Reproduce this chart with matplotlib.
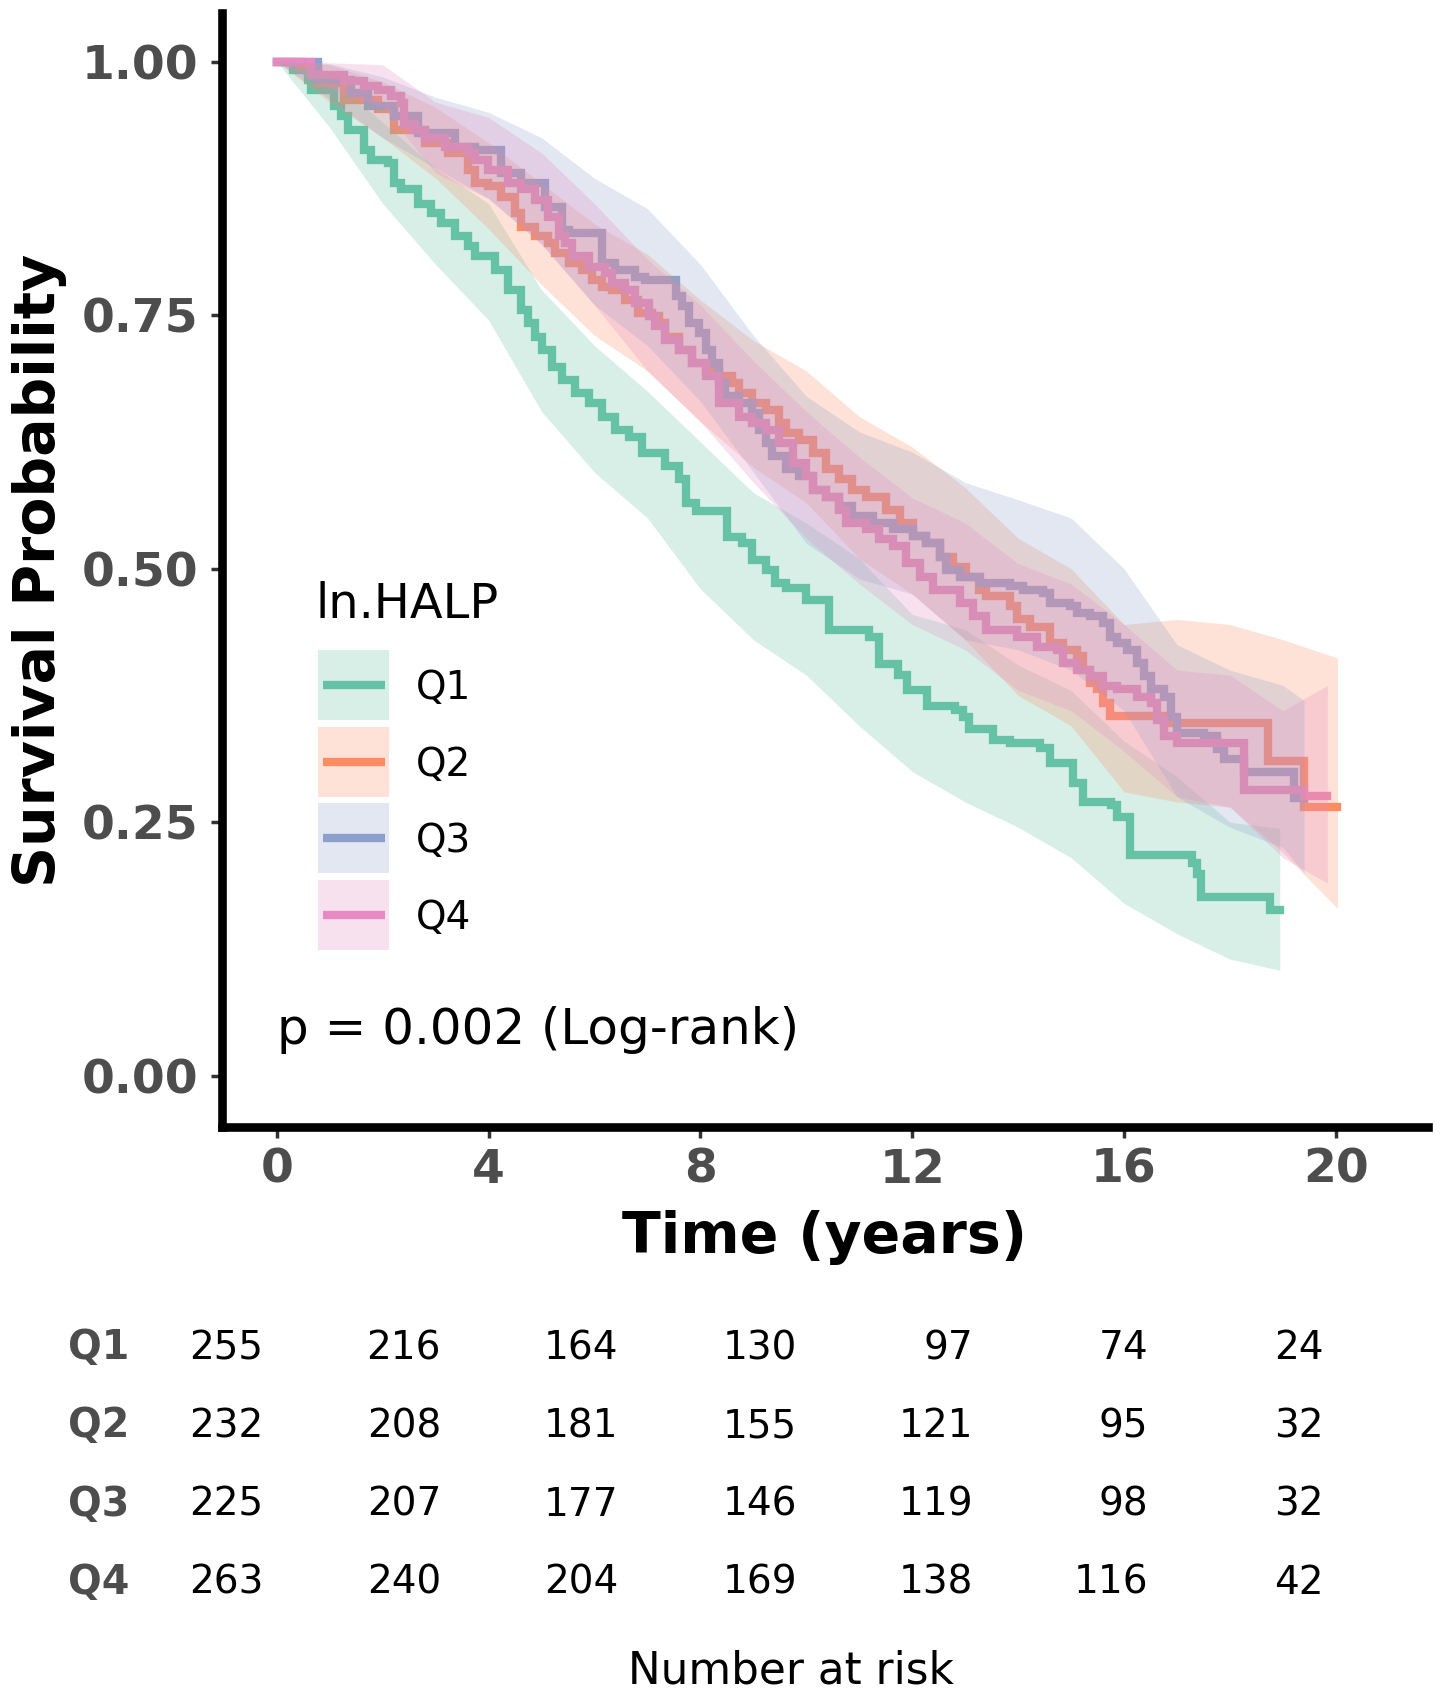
import matplotlib
matplotlib.use('Agg')
import matplotlib.pyplot as plt
from matplotlib.patches import Rectangle
from matplotlib.lines import Line2D

plt.rcParams['font.family'] = ['DejaVu Sans']

# ---------------- data ----------------
groups = ['Q1', 'Q2', 'Q3', 'Q4']
colors = ['#66C2A5', '#FC8D62', '#8DA0CB', '#E78AC3']

q1_time = [0, 0.30, 0.58, 0.64, 1.08, 1.21, 1.34, 1.65, 1.78, 2.10,
           2.22, 2.35, 2.66, 2.92, 3.11, 3.36, 3.61, 3.74, 4.12, 4.37,
           4.62, 4.75, 4.88, 5.00, 5.19, 5.38, 5.63, 5.89, 6.14, 6.39,
           6.65, 6.90, 7.34, 7.59, 7.72, 7.91, 8.51, 8.79, 8.98, 9.23,
           9.40, 9.61, 9.99, 10.43, 11.19, 11.37, 11.73, 11.91, 12.27, 12.80,
           12.96, 13.07, 13.52, 13.84, 14.42, 14.60, 15.04, 15.22, 15.76, 15.86,
           16.12, 17.28, 17.37, 17.46, 18.76, 18.94]
q1_surv = [1.000, 0.992, 0.982, 0.972, 0.956, 0.946, 0.933, 0.913, 0.903, 0.900,
           0.880, 0.874, 0.860, 0.851, 0.841, 0.828, 0.818, 0.808, 0.795, 0.775,
           0.755, 0.742, 0.729, 0.716, 0.699, 0.686, 0.673, 0.663, 0.650, 0.637,
           0.630, 0.614, 0.601, 0.588, 0.565, 0.557, 0.531, 0.525, 0.509, 0.499,
           0.486, 0.481, 0.469, 0.440, 0.433, 0.406, 0.395, 0.380, 0.365, 0.361,
           0.354, 0.342, 0.331, 0.328, 0.323, 0.308, 0.289, 0.270, 0.267, 0.255,
           0.218, 0.210, 0.199, 0.176, 0.163, 0.163]

q2_time = [0, 0.45, 0.77, 1.27, 1.91, 2.22, 2.79, 3.23, 3.61, 3.74,
           3.99, 4.24, 4.50, 4.62, 4.88, 5.13, 5.26, 5.51, 5.76, 5.95,
           6.14, 6.33, 6.58, 6.83, 7.08, 7.21, 7.34, 7.59, 7.84, 8.10,
           8.35, 8.60, 8.73, 8.98, 9.23, 9.49, 9.61, 9.86, 10.12, 10.37,
           10.62, 10.87, 11.13, 11.51, 11.76, 12.01, 12.26, 12.52, 12.77, 13.02,
           13.27, 13.40, 13.84, 13.97, 14.22, 14.60, 14.85, 15.11, 15.23, 15.36,
           15.49, 15.61, 15.74, 16.75, 18.71, 19.40, 20.03]
q2_surv = [1.000, 0.997, 0.979, 0.962, 0.953, 0.933, 0.920, 0.910, 0.893, 0.880,
           0.877, 0.867, 0.851, 0.837, 0.828, 0.821, 0.811, 0.801, 0.795, 0.785,
           0.778, 0.775, 0.765, 0.752, 0.749, 0.742, 0.729, 0.716, 0.703, 0.696,
           0.690, 0.683, 0.673, 0.663, 0.657, 0.644, 0.634, 0.627, 0.614, 0.598,
           0.588, 0.578, 0.571, 0.558, 0.545, 0.532, 0.525, 0.512, 0.502, 0.492,
           0.479, 0.473, 0.463, 0.450, 0.443, 0.427, 0.420, 0.414, 0.400, 0.387,
           0.381, 0.368, 0.355, 0.348, 0.310, 0.265, 0.265]

q3_time = [0, 0.77, 1.40, 1.72, 2.22, 2.66, 3.36, 3.74, 4.24, 4.62,
           5.07, 5.38, 5.51, 6.14, 6.39, 6.77, 6.96, 7.53, 7.65, 7.78,
           7.97, 8.10, 8.22, 8.35, 8.47, 8.73, 8.98, 9.11, 9.23, 9.36,
           9.61, 9.86, 10.12, 10.37, 10.62, 10.87, 11.25, 11.63, 12.01, 12.26,
           12.52, 12.64, 12.90, 13.28, 13.84, 14.10, 14.47, 14.60, 14.98, 15.11,
           15.36, 15.61, 15.74, 15.86, 16.05, 16.24, 16.37, 16.50, 16.75, 16.88,
           17.00, 17.51, 17.76, 17.89, 18.27, 19.21, 19.40]
q3_surv = [1.000, 0.982, 0.969, 0.956, 0.946, 0.930, 0.916, 0.913, 0.890, 0.880,
           0.857, 0.834, 0.831, 0.801, 0.795, 0.788, 0.785, 0.769, 0.759, 0.742,
           0.732, 0.716, 0.703, 0.683, 0.670, 0.663, 0.654, 0.637, 0.624, 0.611,
           0.598, 0.591, 0.578, 0.571, 0.562, 0.552, 0.545, 0.539, 0.532, 0.525,
           0.512, 0.499, 0.492, 0.486, 0.483, 0.479, 0.476, 0.466, 0.463, 0.456,
           0.453, 0.446, 0.433, 0.427, 0.420, 0.407, 0.394, 0.381, 0.374, 0.354,
           0.338, 0.335, 0.322, 0.312, 0.300, 0.274, 0.274]

q4_time = [0, 0.64, 1.27, 1.65, 1.91, 2.16, 2.35, 2.41, 2.60, 2.79,
           3.17, 3.61, 3.74, 3.99, 4.37, 4.62, 4.88, 5.13, 5.32, 5.44,
           5.57, 5.89, 6.20, 6.33, 6.58, 6.77, 7.03, 7.15, 7.34, 7.59,
           7.84, 8.10, 8.35, 8.73, 8.98, 9.23, 9.49, 9.74, 9.99, 10.12,
           10.37, 10.62, 10.75, 11.13, 11.38, 11.63, 11.89, 12.14, 12.39, 12.90,
           13.15, 13.40, 13.97, 14.35, 14.73, 14.85, 15.11, 15.36, 15.61, 15.86,
           16.24, 16.50, 16.62, 16.75, 17.00, 18.27, 19.40, 19.84]
q4_surv = [1.000, 0.987, 0.981, 0.976, 0.972, 0.966, 0.959, 0.939, 0.933, 0.925,
           0.916, 0.910, 0.903, 0.893, 0.880, 0.874, 0.864, 0.847, 0.828, 0.821,
           0.808, 0.798, 0.792, 0.782, 0.775, 0.762, 0.749, 0.739, 0.726, 0.716,
           0.703, 0.690, 0.663, 0.650, 0.644, 0.637, 0.624, 0.604, 0.591, 0.578,
           0.571, 0.558, 0.545, 0.539, 0.529, 0.522, 0.506, 0.492, 0.479, 0.466,
           0.453, 0.440, 0.433, 0.423, 0.420, 0.407, 0.400, 0.394, 0.384, 0.381,
           0.374, 0.368, 0.351, 0.335, 0.328, 0.282, 0.276, 0.276]

# confidence bands (read at yearly knots + end of follow-up)
q1_ci_time = [0, 1, 2, 3, 4, 5, 6, 7, 8, 9, 10, 11, 12, 13, 14, 15, 16, 17, 18, 18.94]
q1_ci_low = [1.0, 0.935, 0.86, 0.80, 0.745, 0.655, 0.595, 0.55, 0.48, 0.43,
             0.395, 0.345, 0.30, 0.27, 0.245, 0.215, 0.17, 0.14, 0.115, 0.104]
q1_ci_up = [1.0, 0.985, 0.94, 0.895, 0.86, 0.775, 0.72, 0.675, 0.625, 0.575,
            0.545, 0.51, 0.455, 0.44, 0.405, 0.38, 0.33, 0.295, 0.25, 0.244]

q2_ci_time = [0, 1, 2, 3, 4, 5, 6, 7, 8, 9, 10, 11, 12, 13, 14, 15, 16, 17, 18, 19, 20.03]
q2_ci_low = [1.0, 0.96, 0.925, 0.885, 0.835, 0.78, 0.73, 0.695, 0.645, 0.60,
             0.565, 0.51, 0.475, 0.43, 0.375, 0.345, 0.28, 0.27, 0.265, 0.22, 0.165]
q2_ci_up = [1.0, 0.997, 0.98, 0.955, 0.92, 0.88, 0.84, 0.81, 0.765, 0.725,
            0.695, 0.65, 0.62, 0.58, 0.53, 0.50, 0.445, 0.45, 0.445, 0.43, 0.412]

q3_ci_time = [0, 1, 2, 3, 4, 5, 6, 7, 8, 9, 10, 11, 12, 13, 14, 15, 16, 17, 18, 19, 19.40]
q3_ci_low = [1.0, 0.963, 0.925, 0.895, 0.865, 0.82, 0.76, 0.72, 0.665, 0.595,
             0.525, 0.49, 0.475, 0.43, 0.42, 0.40, 0.36, 0.275, 0.245, 0.225, 0.20]
q3_ci_up = [1.0, 0.998, 0.985, 0.965, 0.95, 0.925, 0.885, 0.855, 0.80, 0.73,
            0.67, 0.635, 0.615, 0.585, 0.568, 0.55, 0.50, 0.425, 0.40, 0.385, 0.37]

q4_ci_time = [0, 1, 2, 3, 4, 5, 6, 7, 8, 9, 10, 11, 12, 13, 14, 15, 16, 17, 18, 19, 19.84]
q4_ci_low = [1.0, 0.973, 0.955, 0.89, 0.865, 0.82, 0.76, 0.695, 0.645, 0.585,
             0.53, 0.485, 0.445, 0.42, 0.38, 0.36, 0.32, 0.275, 0.265, 0.215, 0.19]
q4_ci_up = [1.0, 0.999, 0.997, 0.96, 0.945, 0.91, 0.86, 0.805, 0.76, 0.705,
            0.655, 0.61, 0.57, 0.545, 0.505, 0.485, 0.445, 0.40, 0.395, 0.36, 0.385]

x_ticks = [0, 4, 8, 12, 16, 20]
y_ticks = [0.00, 0.25, 0.50, 0.75, 1.00]
y_tick_labels = ['0.00', '0.25', '0.50', '0.75', '1.00']

legend_title = 'ln.HALP'
p_text = 'p = 0.002 (Log-rank)'

risk_Q1 = [255, 216, 164, 130, 97, 74, 24]
risk_Q2 = [232, 208, 181, 155, 121, 95, 32]
risk_Q3 = [225, 207, 177, 146, 119, 98, 32]
risk_Q4 = [263, 240, 204, 169, 138, 116, 42]

# ---------------- figure ----------------
W, H = 1441, 1697
fig = plt.figure(figsize=(W / 100, H / 100), dpi=100)
fig.patch.set_facecolor('white')


def fx(px):
    return px / W


def fy(py):
    return 1 - py / H


ax_l, ax_r, ax_t, ax_b = 222, 1428, 13, 1127
ax = fig.add_axes([fx(ax_l), fy(ax_b), (ax_r - ax_l) / W, (ax_b - ax_t) / H])
ax.set_xlim(-1.035, 21.74)
ax.set_ylim(-0.0505, 1.048)

curves = [(q1_time, q1_surv), (q2_time, q2_surv), (q3_time, q3_surv), (q4_time, q4_surv)]
bands = [(q1_ci_time, q1_ci_low, q1_ci_up), (q2_ci_time, q2_ci_low, q2_ci_up),
         (q3_ci_time, q3_ci_low, q3_ci_up), (q4_ci_time, q4_ci_low, q4_ci_up)]

LW = 6.0
for (t, s), c in zip(curves, colors):
    ax.step(t, s, where='post', color=c, lw=LW, zorder=2, solid_joinstyle='miter')
for (t, lo, up), c in zip(bands, colors):
    ax.fill_between(t, lo, up, color=c, alpha=0.25, lw=0, zorder=3)

for side in ['top', 'right']:
    ax.spines[side].set_visible(False)
for side in ['left', 'bottom']:
    ax.spines[side].set_linewidth(6.2)
    ax.spines[side].set_color('black')
    ax.spines[side].set_capstyle('projecting')

ax.set_xticks(x_ticks)
ax.set_xticklabels([str(v) for v in x_ticks])
ax.set_yticks(y_ticks)
ax.set_yticklabels(y_tick_labels)
ax.tick_params(axis='both', direction='out', length=8, width=2.5, color='#333333',
               labelsize=34, labelcolor='#4d4d4d')
ax.tick_params(axis='x', pad=7)
ax.tick_params(axis='y', pad=9)
for lab in ax.get_xticklabels() + ax.get_yticklabels():
    lab.set_fontweight('bold')

fig.text(fx(40), fy(570), 'Survival Probability', rotation=90, ha='center', va='center',
         fontsize=41, fontweight='bold', color='black')
fig.text(fx(825), fy(1253), 'Time (years)', ha='center', va='baseline',
         fontsize=41, fontweight='bold', color='black')

ax.text(0.0, 0.031, p_text, ha='left', va='baseline', fontsize=36, color='black')

# ---------------- legend (drawn as keys) ----------------
fig.text(fx(316), fy(618), legend_title, ha='left', va='baseline', fontsize=34.5, color='black')
key_tops = [650, 727, 803, 880]
for g, c, top in zip(groups, colors, key_tops):
    fig.add_artist(Rectangle((fx(318), fy(top + 70)), 71 / W, 70 / H,
                             transform=fig.transFigure, facecolor=c, alpha=0.25,
                             edgecolor='none'))
    fig.add_artist(Line2D([fx(323), fx(385)], [fy(top + 35), fy(top + 35)],
                          transform=fig.transFigure, color=c, lw=LW,
                          solid_capstyle='butt'))
    fig.text(fx(416), fy(top + 49), g, ha='left', va='baseline', fontsize=28, color='black')

# ---------------- risk table ----------------
risk_rows = [risk_Q1, risk_Q2, risk_Q3, risk_Q4]
col_right = [263, 441, 618, 797, 973, 1148, 1324]
row_base = [1359, 1437, 1516, 1594]
for g, row, yb in zip(groups, risk_rows, row_base):
    fig.text(fx(68), fy(yb), g, ha='left', va='baseline', fontsize=28.5,
             fontweight='bold', color='#4d4d4d')
    for v, xr in zip(row, col_right):
        fig.text(fx(xr), fy(yb), str(v), ha='right', va='baseline', fontsize=28,
                 color='black')
fig.text(fx(791), fy(1683), 'Number at risk', ha='center', va='baseline',
         fontsize=31.5, color='black')

fig.savefig('out.png', dpi=100, facecolor='white')
